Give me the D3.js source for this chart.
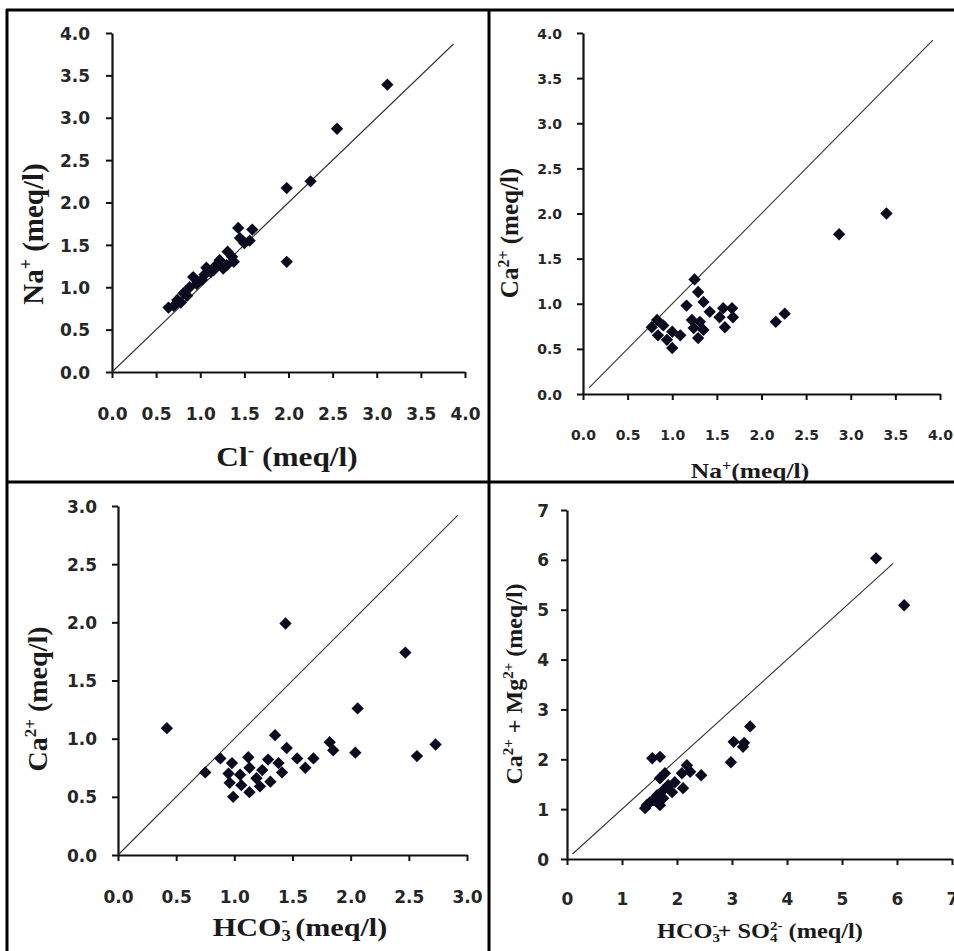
<!DOCTYPE html>
<html>
<head>
<meta charset="utf-8">
<script src="https://cdn.jsdelivr.net/npm/d3@7"></script>
<style>
  body { margin: 0; background: #fff; }
  svg { display: block; }
  .tick text { font-family: "DejaVu Sans", Lato, sans-serif; font-weight: bold; fill: #262626; }
  .title { font-family: "Liberation Serif", "Times New Roman", serif; font-weight: bold; fill: #1a1a1a; }
</style>
</head>
<body>
<div id="chart"></div>
<script>
// panel 1: Cl- vs Na+
const clX = [0.64, 0.70, 0.74, 0.78, 0.81, 0.85, 0.88, 0.92, 0.96, 1.02, 1.05, 1.07, 1.12, 1.15, 1.18, 1.22, 1.26, 1.30, 1.31, 1.36, 1.38, 1.43, 1.45, 1.50, 1.56, 1.59, 1.98, 1.98, 2.25, 2.55, 3.12]
const naY = [0.76, 0.78, 0.85, 0.82, 0.93, 0.90, 1.00, 1.12, 1.04, 1.09, 1.15, 1.23, 1.18, 1.20, 1.26, 1.32, 1.22, 1.26, 1.42, 1.36, 1.30, 1.70, 1.58, 1.52, 1.55, 1.68, 2.17, 1.30, 2.25, 2.87, 3.39]

// panel 2: Na+ vs Ca2+
const naX = [0.77, 0.83, 0.84, 0.90, 0.94, 1.00, 1.00, 1.09, 1.16, 1.22, 1.24, 1.25, 1.29, 1.29, 1.31, 1.35, 1.35, 1.42, 1.53, 1.57, 1.59, 1.67, 1.68, 2.16, 2.26, 2.87, 3.40]
const caY = [0.74, 0.82, 0.65, 0.76, 0.60, 0.69, 0.51, 0.65, 0.98, 0.82, 0.73, 1.27, 1.13, 0.62, 0.80, 1.02, 0.71, 0.91, 0.85, 0.95, 0.74, 0.95, 0.85, 0.80, 0.89, 1.77, 2.00]

// panel 3: HCO3- vs Ca2+
const hco3X = [0.42, 0.75, 0.88, 0.95, 0.96, 0.98, 0.99, 1.05, 1.06, 1.12, 1.13, 1.13, 1.19, 1.22, 1.24, 1.29, 1.31, 1.35, 1.38, 1.41, 1.44, 1.45, 1.54, 1.61, 1.68, 1.82, 1.85, 2.04, 2.06, 2.47, 2.57, 2.73]
const caY3 = [1.09, 0.71, 0.83, 0.70, 0.62, 0.79, 0.50, 0.69, 0.60, 0.84, 0.54, 0.75, 0.66, 0.59, 0.73, 0.82, 0.63, 1.03, 0.79, 0.71, 1.99, 0.92, 0.83, 0.75, 0.83, 0.97, 0.90, 0.88, 1.26, 1.74, 0.85, 0.95]

// panel 4: HCO3- + SO4 2- vs Ca2+ + Mg2+
const anionX = [1.42, 1.45, 1.51, 1.55, 1.57, 1.64, 1.69, 1.69, 1.69, 1.75, 1.75, 1.78, 1.84, 1.91, 1.96, 2.09, 2.11, 2.18, 2.24, 2.44, 2.98, 3.03, 3.20, 3.22, 3.33, 5.62, 6.13]
const cationY = [1.02, 1.08, 1.14, 2.02, 1.18, 1.28, 2.05, 1.62, 1.08, 1.38, 1.22, 1.72, 1.48, 1.34, 1.54, 1.72, 1.42, 1.88, 1.75, 1.68, 1.94, 2.35, 2.25, 2.33, 2.66, 6.03, 5.09]

const ticks4 = [0, 0.5, 1, 1.5, 2, 2.5, 3, 3.5, 4]
const ticks3 = [0, 0.5, 1, 1.5, 2, 2.5, 3]
const ticks7 = [0, 1, 2, 3, 4, 5, 6, 7]

// 1:1 reference line, start and end value
const line1 = [0, 3.87]
const line2 = [0.07, 3.92]
const line3 = [0, 2.92]
const line4 = [0.1, 5.93]

const width = 954, height = 951

const svg = d3.select('#chart').append('svg')
  .attr('width', width).attr('height', height)

// frame of the 2x2 grid
const frame = svg.append('g').attr('stroke', '#000').attr('stroke-width', 3)
frame.append('line').attr('x1', 6).attr('x2', width).attr('y1', 10).attr('y2', 10)
frame.append('line').attr('x1', 7).attr('x2', 7).attr('y1', 9).attr('y2', height)
frame.append('line').attr('x1', 489).attr('x2', 489).attr('y1', 9).attr('y2', height)
frame.append('line').attr('x1', 6).attr('x2', width).attr('y1', 482).attr('y2', 482)

// the source picture is a little stretched sideways
const stretch = 1.16

const panels = [
  { xs: clX, ys: naY, ref: line1, xDomain: [0, 4], yDomain: [0, 4], xTicks: ticks4, yTicks: ticks4, fmt: '.1f',
    left: 112, right: 465, top: 33, bottom: 372, tickSize: 17, xPad: 30, yPad: 16,
    xTitle: [['Cl'], ['-', 'sup'], [' (meq/l)']], xTitlePos: [287, 466], xTitleSize: 27,
    yTitle: [['Na'], ['+', 'sup'], [' (meq/l)']], yTitlePos: [43, 234], yTitleSize: 29 },
  { xs: naX, ys: caY, ref: line2, xDomain: [0, 4], yDomain: [0, 4], xTicks: ticks4, yTicks: ticks4, fmt: '.1f',
    left: 583, right: 940, top: 33, bottom: 394, tickSize: 14, xPad: 30, yPad: 15,
    xTitle: [['Na'], ['+', 'sup'], ['(meq/l)']], xTitlePos: [750, 478], xTitleSize: 22,
    yTitle: [['Ca'], ['2+', 'sup'], [' (meq/l)']], yTitlePos: [518, 233], yTitleSize: 25 },
  { xs: hco3X, ys: caY3, ref: line3, xDomain: [0, 3], yDomain: [0, 3], xTicks: ticks3, yTicks: ticks3, fmt: '.1f',
    left: 118, right: 467, top: 506, bottom: 855, tickSize: 17, xPad: 30, yPad: 15,
    xTitle: [['HCO'], ['3', 'sub'], ['-', 'supback'], [' (meq/l)']], xTitlePos: [300, 936], xTitleSize: 26,
    yTitle: [['Ca'], ['2+', 'sup'], [' (meq/l)']], yTitlePos: [47, 699], yTitleSize: 28 },
  { xs: anionX, ys: cationY, ref: line4, xDomain: [0, 7], yDomain: [0, 7], xTicks: ticks7, yTicks: ticks7, fmt: 'd',
    left: 567, right: 952, top: 510, bottom: 859, tickSize: 17, xPad: 28, yPad: 12,
    xTitle: [['HCO'], ['3', 'sub'], ['-', 'supback'], ['+ SO'], ['4', 'sub'], ['2-', 'supback'], [' (meq/l)']], xTitlePos: [760, 938], xTitleSize: 21,
    yTitle: [['Ca'], ['2+', 'sup'], [' + Mg'], ['2+', 'sup'], [' (meq/l)']], yTitlePos: [522, 684], yTitleSize: 24 }
]

function writeTitle(g, parts, size) {
  const text = g.append('text').attr('class', 'title').attr('text-anchor', 'middle')
    .style('font-size', size + 'px')
  let shift = 0
  parts.forEach(function(p) {
    const kind = p[1]
    const small = Math.round(size * 0.62)
    let target = 0
    if (kind === 'sup' || kind === 'supback') target = -size * 0.38
    if (kind === 'sub') target = size * 0.2
    const span = text.append('tspan').text(p[0]).attr('dy', target - shift)
    if (kind) span.style('font-size', small + 'px')
    if (kind === 'supback') span.attr('dx', -small * 0.5)
    shift = target
  })
  return text
}

panels.forEach(function(p) {
  const x = d3.scaleLinear().domain(p.xDomain).range([p.left, p.right])
  const y = d3.scaleLinear().domain(p.yDomain).range([p.bottom, p.top])
  const g = svg.append('g')

  const xAxis = g.append('g')
    .attr('transform', 'translate(0,' + p.bottom + ')')
    .call(d3.axisBottom(x).tickValues(p.xTicks).tickFormat(d3.format(p.fmt))
      .tickSize(6).tickSizeOuter(0).tickPadding(p.xPad))
  const yAxis = g.append('g')
    .attr('transform', 'translate(' + p.left + ',0)')
    .call(d3.axisLeft(y).tickValues(p.yTicks).tickFormat(d3.format(p.fmt))
      .tickSize(6).tickSizeOuter(0).tickPadding(p.yPad))

  g.selectAll('.domain').attr('stroke', '#111').attr('stroke-width', 2.2)
  g.selectAll('.tick line').attr('stroke', '#111').attr('stroke-width', 2)
  g.selectAll('.tick text').style('font-size', p.tickSize + 'px')
  yAxis.selectAll('.tick text').attr('dy', '0.36em')

  // 1:1 line
  g.append('line')
    .attr('x1', x(p.ref[0])).attr('y1', y(p.ref[0]))
    .attr('x2', x(p.ref[1])).attr('y2', y(p.ref[1]))
    .attr('stroke', '#333').attr('stroke-width', 1.1)

  const pts = p.xs.map(function(v, i) { return [v, p.ys[i]] })
  g.selectAll('.pt').data(pts).enter().append('path')
    .attr('class', 'pt')
    .attr('d', d3.symbol().type(d3.symbolSquare).size(76))
    .attr('transform', function(d) { return 'translate(' + x(d[0]) + ',' + y(d[1]) + ') rotate(45)' })
    .attr('fill', '#0b0b1f')

  writeTitle(g, p.xTitle, p.xTitleSize)
    .attr('transform', 'translate(' + p.xTitlePos[0] + ',' + p.xTitlePos[1] + ') scale(' + stretch + ',1)')
  writeTitle(g, p.yTitle, p.yTitleSize)
    .attr('transform', 'translate(' + p.yTitlePos[0] + ',' + p.yTitlePos[1] + ') rotate(-90)')
})
</script>
</body>
</html>
